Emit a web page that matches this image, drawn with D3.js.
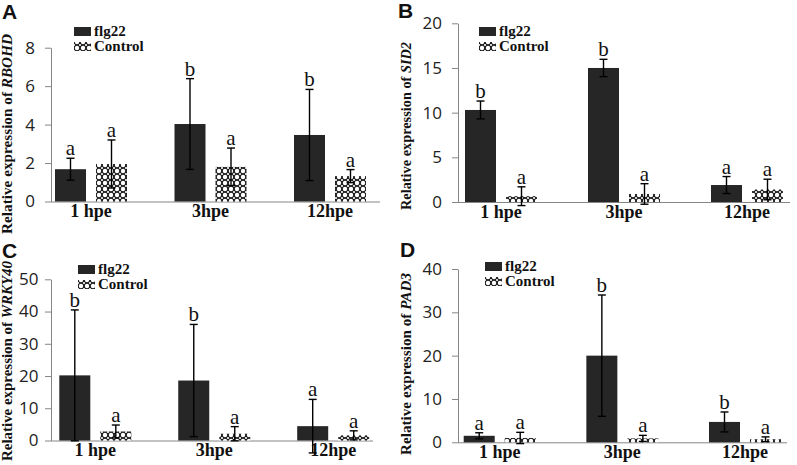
<!DOCTYPE html>
<html><head><meta charset="utf-8">
<script src="https://cdn.jsdelivr.net/npm/d3@7"></script>
<style>body{margin:0;background:#fff}svg{display:block}</style>
</head><body>
<svg id="chart" width="797" height="465"></svg>
<script>
// ---- data ----
const categories = ["1 hpe", "3hpe", "12hpe"];
const seriesNames = ["flg22", "Control"];

// A: RBOHD
const rbohdTicks = [0, 2, 4, 6, 8];
const rbohdFlg22 = [1.68, 4.03, 3.46];
const rbohdFlg22Err = [0.57, 2.36, 2.37];
const rbohdControl = [1.95, 1.80, 1.32];
const rbohdControlErr = [1.25, 0.98, 0.34];
const rbohdFlg22Letters = ["a", "b", "b"];
const rbohdControlLetters = ["a", "a", "a"];

// B: SID2
const sid2Ticks = [0, 5, 10, 15, 20];
const sid2Flg22 = [10.3, 15.0, 1.9];
const sid2Flg22Err = [1.0, 0.97, 0.95];
const sid2Control = [0.65, 0.9, 1.4];
const sid2ControlErr = [1.05, 1.15, 1.15];
const sid2Flg22Letters = ["b", "b", "a"];
const sid2ControlLetters = ["a", "a", "a"];

// C: WRKY40
const wrky40Ticks = [0, 10, 20, 30, 40, 50];
const wrky40Flg22 = [20.2, 18.6, 4.45];
const wrky40Flg22Err = [20.3, 17.4, 8.3];
const wrky40Control = [2.8, 2.1, 1.6];
const wrky40ControlErr = [2.0, 2.2, 1.4];
const wrky40Flg22Letters = ["b", "b", "a"];
const wrky40ControlLetters = ["a", "a", "a"];

// D: PAD3
const pad3Ticks = [0, 10, 20, 30, 40];
const pad3Flg22 = [1.5, 20.0, 4.7];
const pad3Flg22Err = [0.7, 14.0, 2.3];
const pad3Control = [1.0, 0.9, 0.7];
const pad3ControlErr = [1.3, 0.7, 0.55];
const pad3Flg22Letters = ["a", "b", "b"];
const pad3ControlLetters = ["a", "a", "a"];

// ---- panel specs (built from the arrays) ----
const panels = [
  {tag:"A", gene:"RBOHD", ticks:rbohdTicks, flg:rbohdFlg22, flgErr:rbohdFlg22Err, ctl:rbohdControl, ctlErr:rbohdControlErr, flgL:rbohdFlg22Letters, ctlL:rbohdControlLetters,
   L:{axisX:51, xEnd:380, y0:201.5, yTop:47.7, c0:91, c2:330, tickPad:10, legX:74, legY:27, tagX:2, tagY:19, titleX:12, titleY:134, titleLen:200}},
  {tag:"B", gene:"SID2", ticks:sid2Ticks, flg:sid2Flg22, flgErr:sid2Flg22Err, ctl:sid2Control, ctlErr:sid2ControlErr, flgL:sid2Flg22Letters, ctlL:sid2ControlLetters,
   L:{axisX:458, xEnd:790, y0:202, yTop:23.3, c0:501, c2:747, tickPad:10, legX:479, legY:27, tagX:398, tagY:18, titleX:411, titleY:126, titleLen:168}},
  {tag:"C", gene:"WRKY40", ticks:wrky40Ticks, flg:wrky40Flg22, flgErr:wrky40Flg22Err, ctl:wrky40Control, ctlErr:wrky40ControlErr, flgL:wrky40Flg22Letters, ctlL:wrky40ControlLetters,
   L:{axisX:51, xEnd:373, y0:440.5, yTop:279.3, c0:95.3, c2:333.2, tickPad:6.5, legX:78, legY:265, tagX:2, tagY:258, titleX:12, titleY:361, titleLen:200}},
  {tag:"D", gene:"PAD3", ticks:pad3Ticks, flg:pad3Flg22, flgErr:pad3Flg22Err, ctl:pad3Control, ctlErr:pad3ControlErr, flgL:pad3Flg22Letters, ctlL:pad3ControlLetters,
   L:{axisX:458, xEnd:787, y0:442.3, yTop:269, c0:499.7, c2:745, tickPad:10, legX:485, legY:262, tagX:400, tagY:257, titleX:411, titleY:364, titleLen:182}}
];

const BAR = "#262626";
const AXIS = "#868686";
const SERIF = "'Liberation Serif','Times New Roman',serif";

const svg = d3.select("#chart");
const defs = svg.append("defs");
const pat = defs.append("pattern").attr("id","ctlPat").attr("patternUnits","userSpaceOnUse")
  .attr("width",6).attr("height",6);
pat.append("rect").attr("width",6).attr("height",6).attr("fill","#1c1c1c");
pat.append("circle").attr("cx",3).attr("cy",3).attr("r",2.2).attr("fill","#fff");
[[0,0],[6,0],[0,6],[6,6]].forEach(([cx,cy])=>pat.append("circle").attr("cx",cx).attr("cy",cy).attr("r",1.1).attr("fill","#fff"));

const fillFor = s => s === "flg22" ? BAR : "url(#ctlPat)";

function drawPanel(p){
  const L = p.L;
  const g = svg.append("g");
  const step = (L.c2 - L.c0) / 2;
  const x = d3.scaleBand().domain(categories).range([L.c0 - step/2, L.c2 + step/2]);
  const xs = d3.scaleBand().domain(seriesNames).range([-36, 36]).paddingInner(0.244);
  const y = d3.scaleLinear().domain([0, d3.max(p.ticks)]).range([L.y0, L.yTop]);

  // y axis
  const ya = g.append("g").attr("transform", `translate(${L.axisX},0)`)
    .call(d3.axisLeft(y).tickValues(p.ticks).tickSize(6).tickPadding(L.tickPad).tickSizeOuter(0));
  ya.select(".domain").attr("stroke", AXIS);
  ya.selectAll(".tick line").attr("stroke", AXIS);
  ya.selectAll(".tick text").attr("font-family","'Open Sans',sans-serif").attr("font-size",17).attr("fill","#222");

  // x axis line + labels
  g.append("line").attr("x1", L.axisX).attr("x2", L.xEnd).attr("y1", L.y0 + 0.5).attr("y2", L.y0 + 0.5).attr("stroke", AXIS);
  const xa = g.append("g").attr("transform", `translate(0,${L.y0})`)
    .call(d3.axisBottom(x).tickSize(0).tickPadding(3));
  xa.select(".domain").remove();
  xa.selectAll(".tick text").attr("font-family", SERIF).attr("font-weight","bold").attr("font-size",18).attr("fill","#111");

  const rows = [];
  categories.forEach((c, i) => {
    rows.push({c, s:"flg22", v:p.flg[i], e:p.flgErr[i], l:p.flgL[i]});
    rows.push({c, s:"Control", v:p.ctl[i], e:p.ctlErr[i], l:p.ctlL[i]});
  });
  const cx = d => x(d.c) + x.bandwidth()/2 + xs(d.s);

  g.selectAll("rect.bar").data(rows).join("rect").attr("class","bar")
    .attr("x", d => cx(d)).attr("width", xs.bandwidth())
    .attr("y", d => y(d.v)).attr("height", d => y(0) - y(d.v))
    .attr("fill", d => fillFor(d.s));

  const eb = g.selectAll("g.err").data(rows).join("g").attr("class","err")
    .attr("transform", d => `translate(${cx(d) + xs.bandwidth()/2},0)`);
  eb.append("line").attr("y1", d => y(d.v + d.e)).attr("y2", d => y(d.v - d.e)).attr("stroke","#000").attr("stroke-width",1.4);
  eb.append("line").attr("x1",-4).attr("x2",4).attr("y1", d => y(d.v + d.e)).attr("y2", d => y(d.v + d.e)).attr("stroke","#000").attr("stroke-width",1.4);
  eb.append("line").attr("x1",-4).attr("x2",4).attr("y1", d => y(d.v - d.e)).attr("y2", d => y(d.v - d.e)).attr("stroke","#000").attr("stroke-width",1.4);
  eb.append("text").attr("y", d => y(d.v + d.e) - 3).attr("text-anchor","middle")
    .attr("font-family", SERIF).attr("font-size",21).attr("fill","#111").text(d => d.l);

  // legend
  const lg = g.append("g").attr("transform", `translate(${L.legX},${L.legY})`);
  seriesNames.forEach((s, i) => {
    lg.append("rect").attr("x",0).attr("y", i*15).attr("width",17).attr("height",9).attr("fill", fillFor(s));
    lg.append("text").attr("x",20).attr("y", i*15 + 9).attr("font-family", SERIF).attr("font-weight","bold")
      .attr("font-size",15).attr("fill","#111").text(s);
  });

  // y title
  const t = g.append("text").attr("transform", `translate(${L.titleX},${L.titleY}) rotate(-90)`)
    .attr("x", -L.titleLen/2).attr("textLength", L.titleLen).attr("lengthAdjust","spacingAndGlyphs")
    .attr("font-family", SERIF).attr("font-weight","bold").attr("font-size",15).attr("fill","#111");
  t.append("tspan").text("Relative expression of ");
  t.append("tspan").attr("font-style","italic").text(p.gene);

  // panel tag
  g.append("text").attr("x", L.tagX).attr("y", L.tagY).attr("font-family","'Liberation Sans',Arial,sans-serif")
    .attr("font-weight","bold").attr("font-size",21).attr("fill","#111").text(p.tag);
}

panels.forEach(drawPanel);
</script>
</body></html>
